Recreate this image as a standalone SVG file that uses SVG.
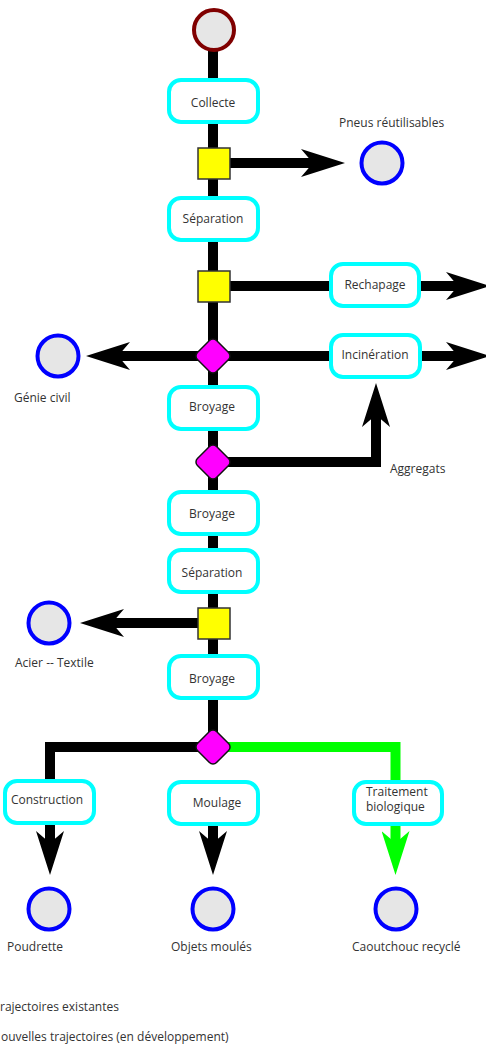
<svg xmlns="http://www.w3.org/2000/svg" width="486" height="1045" viewBox="0 0 486 1045">
<style>
text{font-family:"Open Sans","Noto Sans","Liberation Sans",sans-serif;font-size:12px;fill:#333}
.box{fill:#fff;stroke:#00ffff;stroke-width:4}
.end{fill:#e6e6e6;stroke:#0000ff;stroke-width:4}
.start{fill:#e6e6e6;stroke:#800000;stroke-width:4}
.sq{fill:#ffff00;stroke:#333;stroke-width:1.5}
.dia{fill:#ff00ff;stroke:#111;stroke-width:1.5}
.ln{fill:none;stroke:#000;stroke-width:10}
.gr{fill:none;stroke:#00ff00;stroke-width:10}
.c{text-anchor:middle}
</style>
<defs>
<marker id="ab" viewBox="0 0 44 28" refX="14" refY="14" markerWidth="44" markerHeight="28" markerUnits="userSpaceOnUse" orient="auto">
<path d="M0,0 L44,14 L0,28 L12,14 Z" fill="#000"/>
</marker>
<marker id="ag" viewBox="0 0 44 28" refX="14" refY="14" markerWidth="44" markerHeight="28" markerUnits="userSpaceOnUse" orient="auto">
<path d="M0,0 L44,14 L0,28 L12,14 Z" fill="#00ff00"/>
</marker>
</defs>
<g id="connectors">
<line class="ln" x1="213" y1="48" x2="213" y2="747"/>
<line class="ln" x1="230" y1="163" x2="315" y2="163" marker-end="url(#ab)"/>
<line class="ln" x1="230" y1="286" x2="460" y2="286" marker-end="url(#ab)"/>
<line class="ln" x1="213" y1="356" x2="116" y2="356" marker-end="url(#ab)"/>
<line class="ln" x1="213" y1="356" x2="460" y2="356" marker-end="url(#ab)"/>
<path class="ln" d="M213,462 H376 V413" marker-end="url(#ab)"/>
<line class="ln" x1="213" y1="623" x2="110" y2="623" marker-end="url(#ab)"/>
<path class="ln" d="M213,747 H50 V781"/>
<path class="gr" d="M213,747 H395.5 V782"/>
<line class="ln" x1="50" y1="825" x2="50" y2="845" marker-end="url(#ab)"/>
<line class="ln" x1="213" y1="826" x2="213" y2="845" marker-end="url(#ab)"/>
<line class="gr" x1="395.5" y1="826" x2="395.5" y2="845" marker-end="url(#ag)"/>
</g>
<g id="start"><circle class="start" cx="214" cy="30" r="20"/></g>
<g id="collecte"><rect class="box" x="169" y="80" width="89" height="42" rx="12"/><text class="c" x="213" y="107">Collecte</text></g>
<g id="split1"><rect class="sq" x="198" y="148" width="32" height="31"/></g>
<g id="pneus"><circle class="end" cx="382" cy="163" r="20.5"/><text x="339" y="127">Pneus réutilisables</text></g>
<g id="separation1"><rect class="box" x="169" y="198" width="89" height="42" rx="12"/><text class="c" x="213" y="223">Séparation</text></g>
<g id="split2"><rect class="sq" x="198" y="271" width="32" height="31"/></g>
<g id="rechapage"><rect class="box" x="331" y="264" width="88" height="42" rx="12"/><text class="c" x="375" y="289">Rechapage</text></g>
<g id="dec1"><rect class="dia" x="199.5" y="342.5" width="27" height="27" rx="5" transform="rotate(45 213 356)"/></g>
<g id="genie"><circle class="end" cx="58" cy="356" r="20.5"/><text x="14" y="402">Génie civil</text></g>
<g id="incineration"><rect class="box" x="331" y="335" width="89" height="42" rx="12"/><text class="c" x="375" y="359">Incinération</text></g>
<g id="broyage1"><rect class="box" x="169" y="387" width="89" height="42" rx="12"/><text class="c" x="212" y="411">Broyage</text></g>
<g id="dec2"><rect class="dia" x="199.5" y="448.5" width="27" height="27" rx="5" transform="rotate(45 213 462)"/></g>
<g id="aggregats"><text x="390" y="473">Aggregats</text></g>
<g id="broyage2"><rect class="box" x="169" y="492" width="89" height="42" rx="12"/><text class="c" x="212" y="518">Broyage</text></g>
<g id="separation2"><rect class="box" x="169" y="550" width="89" height="42" rx="12"/><text class="c" x="212" y="577">Séparation</text></g>
<g id="split3"><rect class="sq" x="198" y="608" width="32" height="31"/></g>
<g id="acier"><circle class="end" cx="49" cy="623" r="20.5"/><text x="15" y="667">Acier -- Textile</text></g>
<g id="broyage3"><rect class="box" x="169" y="656" width="89" height="42" rx="12"/><text class="c" x="212" y="683">Broyage</text></g>
<g id="dec3"><rect class="dia" x="199.5" y="733.5" width="27" height="27" rx="5" transform="rotate(45 213 747)"/></g>
<g id="construction"><rect class="box" x="5" y="781" width="89" height="42" rx="12"/><text class="c" x="47" y="804">Construction</text></g>
<g id="moulage"><rect class="box" x="169" y="782" width="89" height="42" rx="12"/><text class="c" x="217" y="807">Moulage</text></g>
<g id="traitement"><rect class="box" x="354" y="782" width="88" height="42" rx="12"/><text x="366" y="796">Traitement</text><text x="366" y="811">biologique</text></g>
<g id="poudrette"><circle class="end" cx="49" cy="909" r="20.5"/><text x="7" y="951">Poudrette</text></g>
<g id="objets"><circle class="end" cx="213" cy="909" r="20.5"/><text x="171" y="951">Objets moulés</text></g>
<g id="caoutchouc"><circle class="end" cx="396" cy="909" r="20.5"/><text x="352" y="951">Caoutchouc recyclé</text></g>
<g id="legend"><text x="0" y="1011">rajectoires existantes</text><text x="1" y="1041">ouvelles trajectoires (en développement)</text></g>
</svg>
